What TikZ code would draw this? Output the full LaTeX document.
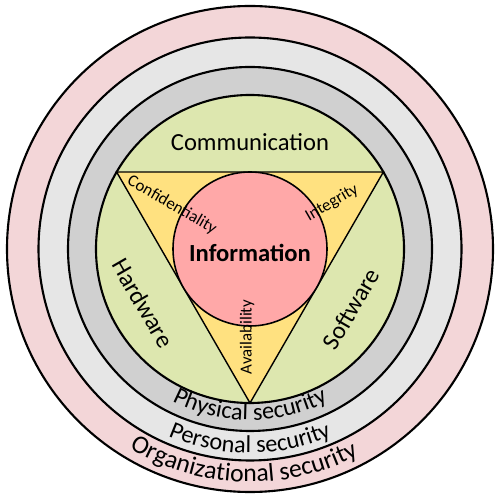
\documentclass[tikz,border=0pt]{standalone}
\usepackage{fontspec}
\setmainfont{Carlito}
\usetikzlibrary{decorations.text}
\definecolor{ringpink}{RGB}{243,214,216}
\definecolor{ringlight}{RGB}{230,230,230}
\definecolor{ringgray}{RGB}{208,208,208}
\definecolor{ringgreen}{RGB}{221,231,175}
\definecolor{triyellow}{RGB}{255,225,128}
\definecolor{infopink}{RGB}{255,168,168}
\tikzset{
  ringline/.style={draw=black, line width=1.2pt},
  triline/.style={draw=black, line width=0.8pt, line join=miter},
  biglabel/.style={font=\fontsize{14}{16}\selectfont, inner sep=0pt},
  smalllabel/.style={font=\fontsize{9.6}{11}\selectfont, inner sep=0pt},
  arclabel/.style 2 args={decorate, decoration={text along path, text align=center, text={|\fontsize{#1}{16}\selectfont|#2}}}
}
\begin{document}
\begin{tikzpicture}[x=0.02cm,y=0.02cm]
\useasboundingbox (0,0) rectangle (500,500);
\coordinate (c) at (250,251);
\fill[ringpink, ringline] (c) circle[radius=243];
\fill[ringlight, ringline] (c) circle[radius=211.5];
\fill[ringgray, ringline] (c) circle[radius=182];
\fill[ringgreen, ringline] (c) circle[radius=154];
\path (c) ++(150:154) coordinate (tl);
\path (c) ++(30:154) coordinate (tr);
\path (c) ++(270:154) coordinate (tb);
\filldraw[fill=triyellow, triline] (tl) -- (tr) -- (tb) -- cycle;
\filldraw[fill=infopink, draw=black, line width=0.9pt] (c) circle[radius=77];
\node[biglabel] (comm) at (250,358) {Communication};
\node[biglabel, font=\fontsize{14}{16}\selectfont\bfseries] (info) at (250,247) {Information};
\node[biglabel, rotate=-60] (hw) at (143,197) {Hardware};
\node[biglabel, rotate=60] (sw) at (351,191) {Software};
\node[smalllabel, rotate=-30] (conf) at (172,295) {Confidentiality};
\node[smalllabel, rotate=30] (integ) at (332,297) {Integrity};
\node[smalllabel, rotate=90] (avail) at (247,163) {Availability};
\path[arclabel={13.8}{Physical security}] (c) ++(180:171) arc[start angle=180, end angle=360, radius=171];
\path[arclabel={13.8}{Personal security}] (c) ++(180:204) arc[start angle=180, end angle=360, radius=204];
\path[arclabel={14.6}{Organizational security}] (c) ++(178.3:233) arc[start angle=178.3, end angle=358.3, radius=233];
\end{tikzpicture}
\end{document}
